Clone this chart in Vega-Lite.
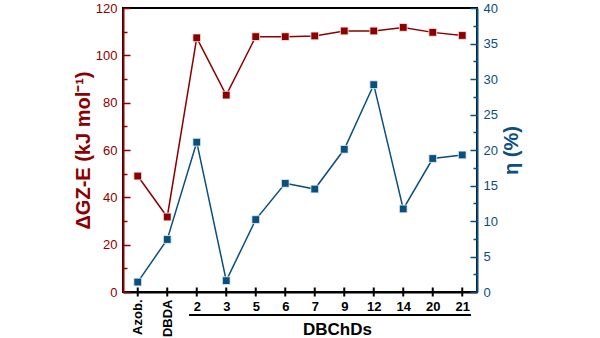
{
  "$schema": "https://vega.github.io/schema/vega-lite/v6.json",
  "width": 354,
  "height": 284,
  "autosize": "none",
  "padding": {"left": 123, "top": 8, "right": 123, "bottom": 46},
  "background": "white",
  "config": {
    "font": "Liberation Sans",
    "view": {"stroke": "black", "strokeWidth": 2}
  },
  "data": {
    "values": [
      {"cat": "Azob.", "dg": 49.0, "eta": 1.4},
      {"cat": "DBDA", "dg": 31.7, "eta": 7.4},
      {"cat": "2", "dg": 107.4, "eta": 21.1},
      {"cat": "3", "dg": 83.2, "eta": 1.6},
      {"cat": "5", "dg": 107.9, "eta": 10.2},
      {"cat": "6", "dg": 107.9, "eta": 15.3},
      {"cat": "7", "dg": 108.2, "eta": 14.5},
      {"cat": "9", "dg": 110.3, "eta": 20.1},
      {"cat": "12", "dg": 110.3, "eta": 29.2},
      {"cat": "14", "dg": 111.8, "eta": 11.7},
      {"cat": "20", "dg": 109.7, "eta": 18.8},
      {"cat": "21", "dg": 108.4, "eta": 19.3}
    ]
  },
  "layer": [
    {
      "mark": {
        "type": "line",
        "color": "#8B0000",
        "strokeWidth": 1.5,
        "point": {"shape": "square", "size": 60, "filled": true, "color": "#8B0000", "stroke": "#fbeaea", "strokeWidth": 0.8, "opacity": 1}
      },
      "encoding": {
        "x": {
          "field": "cat",
          "type": "nominal",
          "sort": null,
          "scale": {"type": "point", "padding": 0.5, "domain": ["Azob.", "DBDA", "2", "3", "5", "6", "7", "9", "12", "14", "20", "21"]},
          "axis": {
            "orient": "bottom",
            "title": "DBChDs",
            "titleX": 214,
            "titleY": 42,
            "titleBaseline": "alphabetic",
            "titleAnchor": "middle",
            "titleAlign": "center",
            "titleFontSize": 17,
            "titleFontWeight": "bold",
            "titleColor": "black",
            "labelAngle": 0,
            "labelFontWeight": "bold",
            "labelFontSize": 13,
            "labelColor": "black",
            "labelPadding": 8,
            "labelAlign": "center",
            "labelBaseline": "top",
            "labelExpr": "datum.value == 'Azob.' || datum.value == 'DBDA' ? '' : datum.label",
            "domainColor": "black",
            "domainWidth": 2,
            "ticks": false,
            "grid": false
          }
        },
        "y": {
          "field": "dg",
          "type": "quantitative",
          "scale": {"domain": [0, 120], "nice": false, "zero": true},
          "axis": {
            "orient": "left",
            "title": "ΔGZ-E (kJ mol⁻¹)",
            "titleFontSize": 20,
            "titleFontWeight": "bold",
            "titleColor": "#8B0000",
            "titlePadding": 2,
            "values": [0, 10, 20, 30, 40, 50, 60, 70, 80, 90, 100, 110, 120],
            "labelExpr": "datum.value % 20 === 0 ? datum.label : ''",
            "labelColor": "#8B0000",
            "labelFontSize": 13,
            "labelPadding": 13,
            "domainColor": "#8B0000",
            "domainWidth": 2,
            "tickColor": "#8B0000",
            "tickWidth": 1.5,
            "tickSize": {"condition": {"test": "datum.value % 20 !== 0", "value": -4}, "value": -7},
            "grid": false
          }
        }
      }
    },
    {
      "mark": {
        "type": "line",
        "color": "#0B4F7C",
        "strokeWidth": 1.5,
        "point": {"shape": "square", "size": 60, "filled": true, "color": "#0B4F7C", "stroke": "#e6f0f7", "strokeWidth": 0.8, "opacity": 1}
      },
      "encoding": {
        "x": {
          "field": "cat",
          "type": "nominal",
          "sort": null,
          "axis": {
            "orient": "bottom",
            "title": null,
            "labelAngle": 270,
            "labelFontWeight": "bold",
            "labelFontSize": 13,
            "labelColor": "black",
            "labelPadding": 7,
            "labelAlign": "right",
            "labelBaseline": "middle",
            "labelExpr": "datum.value == 'Azob.' || datum.value == 'DBDA' ? datum.label : ''",
            "domain": false,
            "ticks": false,
            "grid": false
          }
        },
        "y": {
          "field": "eta",
          "type": "quantitative",
          "scale": {"domain": [0, 40], "nice": false, "zero": true},
          "axis": {
            "orient": "right",
            "title": "η (%)",
            "titleAngle": 270,
            "titleFontSize": 20,
            "titleFontWeight": "bold",
            "titleColor": "#0B4F7C",
            "titleX": 40,
            "titleBaseline": "alphabetic",
            "values": [0, 2.5, 5, 7.5, 10, 12.5, 15, 17.5, 20, 22.5, 25, 27.5, 30, 32.5, 35, 37.5, 40],
            "labelExpr": "datum.value % 5 === 0 ? datum.label : ''",
            "labelColor": "#0B4F7C",
            "labelFontSize": 13,
            "labelPadding": 13,
            "domainColor": "#0B4F7C",
            "domainWidth": 2,
            "tickColor": "#0B4F7C",
            "tickWidth": 1.5,
            "tickSize": {"condition": {"test": "datum.value % 5 !== 0", "value": -4}, "value": -7},
            "grid": false
          }
        }
      }
    },
    {
      "mark": {"type": "tick", "orient": "vertical", "color": "black", "size": 9, "thickness": 2, "opacity": 1, "clip": false},
      "encoding": {
        "x": {"field": "cat", "type": "nominal", "sort": null, "axis": null},
        "y": {"datum": 0, "scale": {"domain": [0, 120], "nice": false}, "axis": null}
      }
    },
    {
      "mark": {"type": "rule", "color": "black", "strokeWidth": 1.5, "xOffset": -7, "x2Offset": 8, "clip": false},
      "encoding": {
        "x": {"datum": "2", "axis": null},
        "x2": {"datum": "21"},
        "y": {"datum": -9.7, "scale": {"domain": [0, 120], "nice": false}, "axis": null}
      }
    }
  ],
  "resolve": {"scale": {"y": "independent"}, "axis": {"x": "independent"}}
}
